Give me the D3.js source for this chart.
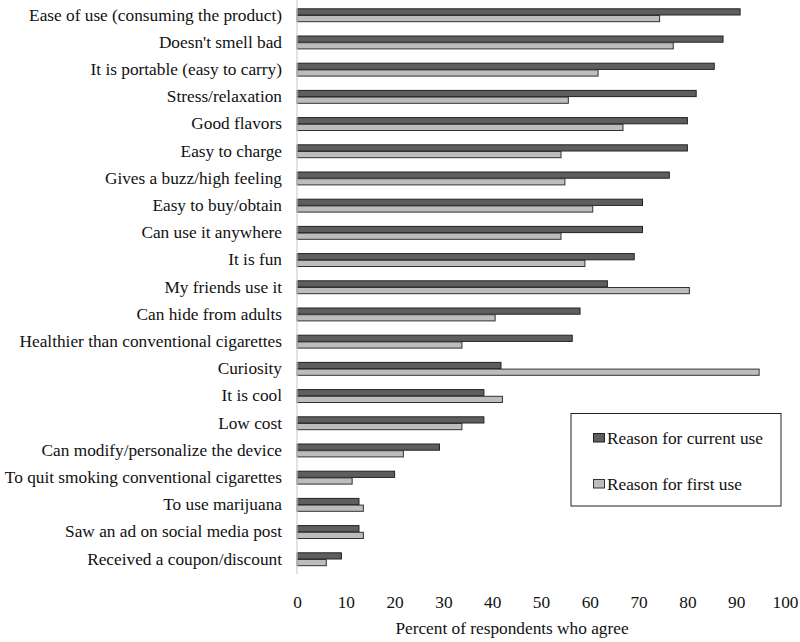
<!DOCTYPE html>
<html>
<head>
<meta charset="utf-8">
<script src="https://cdn.jsdelivr.net/npm/d3@7"></script>
<style>
  html, body { margin: 0; padding: 0; background: #fff; }
  svg { display: block; }
</style>
</head>
<body>
<svg id="chart" width="800" height="642"></svg>
<script>
const categories = [
  "Ease of use (consuming the product)",
  "Doesn't smell bad",
  "It is portable (easy to carry)",
  "Stress/relaxation",
  "Good flavors",
  "Easy to charge",
  "Gives a buzz/high feeling",
  "Easy to buy/obtain",
  "Can use it anywhere",
  "It is fun",
  "My friends use it",
  "Can hide from adults",
  "Healthier than conventional cigarettes",
  "Curiosity",
  "It is cool",
  "Low cost",
  "Can modify/personalize the device",
  "To quit smoking conventional cigarettes",
  "To use marijuana",
  "Saw an ad on social media post",
  "Received a coupon/discount"
];
const currentUse = [90.8, 87.3, 85.5, 81.8, 80.0, 80.0, 76.3, 70.8, 70.8, 69.1, 63.6, 58.0, 56.4, 41.8, 38.3, 38.3, 29.2, 20.0, 12.7, 12.7, 9.1];
const firstUse   = [74.3, 77.1, 61.7, 55.6, 66.8, 54.1, 54.9, 60.6, 54.1, 59.0, 80.4, 40.6, 33.8, 94.7, 42.1, 33.8, 21.8, 11.3, 13.6, 13.6, 6.0];
const seriesNames = ["Reason for current use", "Reason for first use"];
const xTicks = [0, 10, 20, 30, 40, 50, 60, 70, 80, 90, 100];
const axisTitle = "Percent of respondents who agree";

const FONT = "'Liberation Serif', Tinos, 'Times New Roman', 'DejaVu Serif', serif";
const FS = 17.3;
const seriesFill = ["#5e5e5e", "#bdbdbd"];
const seriesStroke = ["#222", "#333"];

const svg = d3.select("#chart");

const x = d3.scaleLinear().domain([0, 100]).range([297, 785]);
const y = d3.scaleBand().domain(categories).range([1.4, 572.6]).padding(0);
const sub = d3.scaleBand().domain(seriesNames).range([6.9, 20.3]).padding(0);

const data = categories.map((c, i) => ({cat: c, vals: [currentUse[i], firstUse[i]]}));

const groups = svg.append("g").selectAll("g")
  .data(data).join("g")
  .attr("transform", d => `translate(0,${y(d.cat)})`);

groups.selectAll("rect")
  .data(d => d.vals.map((v, k) => ({v, k})))
  .join("rect")
  .attr("x", x(0))
  .attr("y", d => sub(seriesNames[d.k]) + 0.5)
  .attr("width", d => x(d.v) - x(0))
  .attr("height", sub.bandwidth() - 0.5)
  .attr("fill", d => seriesFill[d.k])
  .attr("stroke", d => seriesStroke[d.k])
  .attr("stroke-width", 1);

svg.append("line")
  .attr("x1", x(0)).attr("x2", x(0))
  .attr("y1", 0).attr("y2", 574)
  .attr("stroke", "#cfcfcf").attr("stroke-width", 1.2);

const yAxis = d3.axisLeft(y).tickSize(0).tickPadding(15);
const yg = svg.append("g").attr("transform", `translate(${x(0)},0)`).call(yAxis)
  .attr("font-family", FONT).attr("font-size", FS);
yg.select(".domain").remove();
yg.selectAll("text").style("font-family", FONT).attr("fill", "#111");

const xAxis = d3.axisBottom(x).tickValues(xTicks).tickSize(0).tickPadding(0).tickFormat(d3.format("d"));
const xg = svg.append("g").attr("transform", "translate(0,596)").call(xAxis)
  .attr("font-family", FONT).attr("font-size", FS);
xg.select(".domain").remove();
xg.selectAll("text").attr("dy", "0.71em").style("font-family", FONT).attr("fill", "#111");

svg.append("text")
  .attr("x", 512).attr("y", 634)
  .attr("text-anchor", "middle")
  .style("font-family", FONT)
  .attr("font-size", FS)
  .attr("fill", "#111")
  .text(axisTitle);

const legend = svg.append("g");
legend.append("rect")
  .attr("x", 571).attr("y", 413.5).attr("width", 210).attr("height", 92.5)
  .attr("fill", "#fff").attr("stroke", "#222").attr("stroke-width", 1);
const legY = [433, 479];
seriesNames.forEach((name, k) => {
  legend.append("rect")
    .attr("x", 593.5).attr("y", legY[k] + 0.5).attr("width", 11).attr("height", 8.5)
    .attr("fill", seriesFill[k]).attr("stroke", seriesStroke[k]).attr("stroke-width", 1);
  legend.append("text")
    .attr("x", 607).attr("y", legY[k] + 10.5)
    .style("font-family", FONT)
    .attr("font-size", FS)
    .attr("fill", "#111")
    .text(name);
});
</script>
</body>
</html>
